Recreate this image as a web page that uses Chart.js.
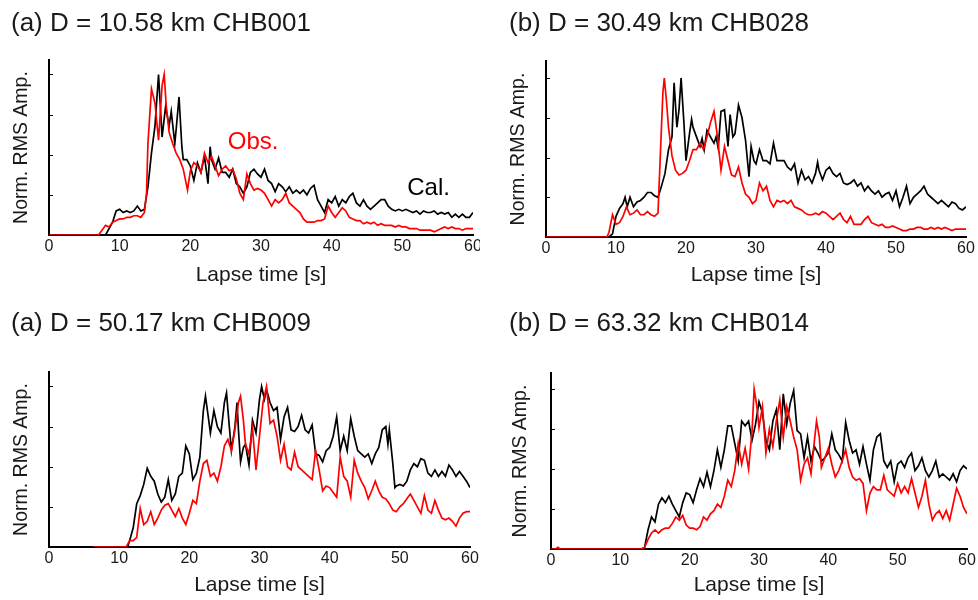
<!DOCTYPE html>
<html><head><meta charset="utf-8">
<script src="https://cdn.jsdelivr.net/npm/chart.js@4.4.0/dist/chart.umd.min.js"></script>
<style>
html,body{margin:0;padding:0;background:#fff;}
body{width:978px;height:600px;position:relative;overflow:hidden;font-family:"Liberation Sans",Arial,sans-serif;}
.panel{position:absolute;overflow:hidden;}
.title{position:absolute;font-size:26px;line-height:26px;color:#1a1a1a;white-space:nowrap;}
canvas{display:block;}
</style></head><body>
<div class="panel" id="p1" style="left:0;top:0;width:480px;height:300px"><canvas id="c1" width="498" height="300"></canvas></div>
<div class="panel" id="p2" style="left:480px;top:0;width:498px;height:300px"><canvas id="c2" width="498" height="300"></canvas></div>
<div class="panel" id="p3" style="left:0;top:300px;width:480px;height:300px"><canvas id="c3" width="498" height="300"></canvas></div>
<div class="panel" id="p4" style="left:480px;top:300px;width:498px;height:300px"><canvas id="c4" width="498" height="300"></canvas></div>
<div class="title" id="t1" style="left:11px;top:9px"></div>
<div class="title" id="t2" style="left:509px;top:9px"></div>
<div class="title" id="t3" style="left:11px;top:309px"></div>
<div class="title" id="t4" style="left:509px;top:309px"></div>
<script>
// ---------- data ----------
const panelTitles = ["(a) D = 10.58 km CHB001", "(b) D = 30.49 km CHB028", "(a) D = 50.17 km CHB009", "(b) D = 63.32 km CHB014"];
const xTickValues = [0, 10, 20, 30, 40, 50, 60];
const yTickValues = [25, 50, 75, 100];
const seriesNames = ["Cal.", "Obs."];

// [lapse time s, normalized RMS amplitude %]
const cal1 = [[0,0],[8,0],[8.5,4],[9,8],[9.5,15],[10,16],[10.5,14],[11,15],[11.5,14],[12,15],[12.5,18],[13,15],[13.5,16],[14,30],[14.5,51],[15,68],[15.5,100],[16,61],[16.5,80],[17,68],[17.3,77],[17.8,57],[18,66],[18.4,86],[18.8,55],[19,47],[19.5,47],[20,43],[20.5,34],[21,45],[21.5,39],[22,49],[22.5,32],[22.8,55],[23,47],[23.5,41],[24,48],[24.5,39],[25,39],[25.5,36],[26,41],[26.5,32],[27,30],[27.5,26],[28,30],[28.5,39],[29,41],[29.5,38],[30,36],[30.5,41],[31,34],[31.5,32],[32,27],[32.5,32],[33,30],[33.5,27],[34,30],[34.5,26],[35,28],[35.5,26],[36,28],[36.5,25],[37,29],[37.5,31],[38,22],[38.5,18],[39,14],[39.5,22],[40,20],[40.5,24],[41,18],[41.5,22],[42,20],[42.5,24],[43,26],[43.5,20],[44,18],[44.5,22],[45,18],[45.5,16],[46,18],[46.5,20],[47,22],[47.5,22],[48,18],[48.5,16],[49,15],[49.5,16],[50,15],[50.5,16],[51,15],[51.5,14],[52,15],[52.5,13],[53,15],[53.5,14],[54,14],[54.5,15],[55,13],[55.5,14],[56,13],[56.5,14],[57,11],[57.5,13],[58,11],[58.5,13],[59,11],[59.5,11],[60,14]];
const obs1 = [[0,0],[7,0],[7.5,3],[8,6],[8.5,5],[9,8],[9.5,9],[10,10],[10.5,10],[11,11],[11.5,11],[12,12],[12.5,12],[13,11],[13.5,14],[13.8,26],[14,57],[14.5,91],[15,82],[15.5,59],[16,93],[16.3,100],[16.6,80],[17,64],[17.5,57],[18,51],[18.5,47],[19,41],[19.6,28],[20,40],[20.5,45],[21,43],[21.5,39],[22,51],[22.5,45],[23,49],[23.5,43],[24,37],[24.5,41],[25,43],[25.5,40],[26,41],[26.5,35],[27,26],[27.5,22],[28,38],[28.5,32],[29,28],[29.5,29],[30,28],[30.5,26],[31,22],[31.5,18],[32,22],[32.5,20],[33,22],[33.5,26],[34,20],[34.5,18],[35,16],[35.5,14],[36,10],[36.5,8],[37,8],[37.5,8],[38,9],[38.5,9],[39,10],[39.5,18],[40,14],[40.5,11],[41,14],[41.5,17],[42,15],[42.5,11],[43,10],[43.5,9],[44,9],[44.5,7],[45,8],[45.5,7],[46,8],[46.5,6],[47,7],[47.5,6],[48,6],[48.5,6],[49,5],[49.5,6],[50,5],[50.5,5],[51,4],[51.5,4],[52,4],[52.5,3],[53,3],[53.5,3],[54,3],[54.5,2],[55,3],[55.5,4],[56,5],[56.5,4],[57,5],[57.5,4],[58,4],[58.5,3],[59,4],[59.5,4],[60,4]];
const cal2 = [[0,0],[9,0],[9.5,2],[10,13],[10.5,18],[11,21],[11.3,25],[11.6,19],[12,25],[12.5,19],[13,22],[13.5,23],[14,25],[14.5,28],[15,28],[15.5,26],[16,25],[16.5,32],[17,40],[17.5,55],[18,63],[18.3,97],[18.7,69],[19,80],[19.3,100],[19.7,72],[20,48],[20.5,65],[20.8,74],[21,69],[21.5,63],[22,57],[22.3,62],[22.6,55],[23,67],[23.5,63],[24,59],[24.3,63],[24.6,56],[25,79],[25.5,80],[26,57],[26.3,77],[26.7,63],[27,65],[27.5,83],[28,75],[28.5,61],[29,38],[29.3,57],[29.7,48],[30,46],[30.5,55],[31,48],[31.5,48],[32,46],[32.5,59],[33,48],[33.5,48],[34,48],[34.5,44],[35,42],[35.5,46],[36,34],[36.5,42],[37,36],[37.5,38],[38,34],[38.5,40],[38.8,47],[39,42],[39.5,36],[40,42],[40.5,44],[41,40],[41.5,38],[42,40],[42.5,34],[43,33],[43.5,34],[44,36],[44.5,32],[45,34],[45.5,29],[46,32],[46.5,29],[47,27],[47.5,29],[48,25],[48.5,27],[49,28],[49.5,23],[50,29],[50.5,19],[51,25],[51.5,32],[52,21],[52.5,25],[53,27],[53.5,29],[54,32],[54.5,27],[55,25],[55.5,23],[56,21],[56.5,23],[57,21],[57.5,19],[58,22],[58.5,21],[59,18],[59.5,17],[60,19]];
const obs2 = [[0,0],[8.7,0],[9,3],[9.5,14],[10,8],[10.5,9],[11,13],[11.5,19],[12,14],[12.5,15],[13,17],[13.5,14],[14,14],[14.5,16],[15,14],[15.5,13],[16,15],[16.3,48],[16.7,91],[16.9,100],[17.2,86],[17.5,69],[18,51],[18.5,42],[19,39],[19.5,40],[20,42],[20.5,48],[21,55],[21.5,55],[22,59],[22.5,55],[23,63],[23.5,72],[24,79],[24.5,63],[25,42],[25.5,57],[26,48],[26.5,39],[27,38],[27.5,44],[28,34],[28.5,27],[29,25],[29.5,21],[30,23],[30.5,34],[31,29],[31.5,32],[32,23],[32.5,19],[33,23],[33.5,22],[34,23],[34.5,21],[35,23],[35.5,19],[36,18],[36.5,17],[37,15],[37.5,14],[38,14],[38.5,15],[39,14],[39.5,16],[40,15],[40.5,13],[41,11],[41.5,13],[42,15],[42.5,11],[43,9],[43.5,13],[44,8],[44.5,8],[45,8],[45.5,11],[46,13],[46.5,9],[47,8],[47.5,7],[48,8],[48.5,6],[49,6],[49.5,7],[50,6],[50.5,5],[51,4],[51.5,4],[52,5],[52.5,5],[53,6],[53.5,6],[54,5],[54.5,5],[55,6],[55.5,5],[56,6],[56.5,5],[57,6],[57.5,5],[58,4],[58.5,5],[59,5],[59.5,5],[60,5]];
const cal3 = [[0,0],[11.2,0],[11.5,4],[12,12],[12.5,27],[13,32],[13.5,39],[14,49],[14.5,44],[15,41],[15.5,33],[16,28],[16.5,31],[17,42],[17.5,29],[18,33],[18.5,44],[19,46],[19.5,63],[20,58],[20.5,42],[21,46],[21.5,56],[22,85],[22.3,94],[22.7,81],[23,71],[23.5,85],[24,75],[24.5,71],[25,90],[25.3,96],[25.7,75],[26,60],[26.5,75],[26.8,90],[27,73],[27.3,53],[27.7,62],[28,64],[28.5,51],[29,79],[29.5,71],[30,92],[30.3,100],[30.7,92],[31,98],[31.5,90],[32,85],[32.5,87],[33,67],[33.5,81],[34,87],[34.5,73],[35,72],[35.5,75],[36,82],[36.5,73],[37,71],[37.5,76],[38,58],[38.5,57],[39,53],[39.5,60],[40,62],[40.5,69],[41,81],[41.5,60],[42,69],[42.5,60],[43,80],[43.5,69],[44,60],[44.5,58],[45,56],[45.5,58],[46,52],[46.5,58],[47,62],[47.5,73],[48,75],[48.3,64],[48.5,73],[49,52],[49.3,37],[49.5,38],[50,39],[50.5,38],[51,41],[51.5,48],[52,52],[52.5,50],[53,55],[53.5,54],[54,46],[54.5,44],[55,48],[55.5,44],[56,47],[56.5,44],[57,51],[57.5,48],[58,44],[58.5,47],[59,44],[59.5,41],[60,37]];
const obs3 = [[6.3,0],[11,0],[11.5,4],[12,4],[12.5,6],[13,24],[13.5,14],[14,16],[14.5,22],[15,14],[15.5,18],[16,23],[16.5,26],[17,27],[17.5,23],[18,19],[18.5,24],[19,18],[19.5,14],[20,21],[20.5,29],[21,27],[21.5,41],[22,52],[22.5,54],[23,44],[23.5,46],[24,41],[24.5,50],[25,63],[25.5,67],[26,60],[26.5,73],[27,90],[27.3,94],[27.7,79],[28,64],[28.5,58],[29,74],[29.5,48],[30,69],[30.5,90],[31,100],[31.5,77],[32,79],[32.5,69],[33,54],[33.5,64],[34,50],[34.5,48],[35,59],[35.5,50],[36,48],[36.5,46],[37,44],[37.5,42],[38,60],[38.5,48],[39,35],[39.5,38],[40,37],[40.5,34],[41,31],[41.5,56],[42,44],[42.5,41],[43,31],[43.5,54],[44,46],[44.5,41],[45,37],[45.5,30],[46,35],[46.5,41],[47,35],[47.5,31],[48,30],[48.5,27],[49,23],[49.5,22],[50,25],[50.5,27],[51,30],[51.5,33],[52,29],[52.5,25],[53,21],[53.5,32],[54,23],[54.5,21],[55,29],[55.5,23],[56,18],[56.5,17],[57,18],[57.5,16],[58,13],[58.5,18],[59,21],[59.5,22],[60,22]];
const cal4 = [[0,0],[13,0],[13.5,1],[14,12],[14.5,20],[15,17],[15.5,28],[16,32],[16.5,29],[17,33],[17.5,28],[18,24],[18.5,20],[19,29],[19.5,35],[20,34],[20.5,29],[21,37],[21.5,44],[22,39],[22.5,48],[23,39],[23.5,49],[24,62],[24.5,51],[25,62],[25.5,77],[26,77],[26.5,66],[27,55],[27.5,80],[28,77],[28.5,80],[29,68],[29.5,78],[30,92],[30.5,85],[31,68],[31.5,62],[32,80],[32.5,87],[33,62],[33.5,97],[34,78],[34.5,91],[35,99],[35.5,74],[36,72],[36.5,57],[37,70],[37.5,55],[38,64],[38.5,60],[39,55],[39.5,57],[40,60],[40.5,72],[41,62],[41.5,59],[42,55],[42.5,79],[43,68],[43.5,60],[44,62],[44.5,53],[45,64],[45.5,53],[46,43],[46.5,62],[47,70],[47.5,72],[48,55],[48.5,51],[49,55],[49.5,42],[50,53],[50.5,55],[51,51],[51.5,57],[52,60],[52.5,49],[53,52],[53.5,57],[54,49],[54.5,45],[55,49],[55.5,55],[56,45],[56.5,47],[57,45],[57.5,43],[58,47],[58.5,42],[59,49],[59.5,52],[60,50]];
const obs4 = [[0,0],[0.7,0],[1,1],[1.3,0],[13,0],[13.5,1],[14,6],[14.5,10],[15,12],[15.5,10],[16,12],[16.5,13],[17,13],[17.5,16],[18,20],[18.5,18],[19,21],[19.5,15],[20,13],[20.5,13],[21,12],[21.5,14],[22,20],[22.5,18],[23,22],[23.5,24],[24,28],[24.5,26],[25,33],[25.5,43],[26,39],[26.5,49],[27,66],[27.5,53],[28,63],[28.5,50],[29,74],[29.3,100],[29.7,89],[30,76],[30.5,89],[31,60],[31.5,75],[32,64],[32.5,80],[33,93],[33.5,70],[34,89],[34.5,80],[35,70],[35.5,62],[36,43],[36.5,53],[37,57],[37.5,47],[38,68],[38.3,80],[38.7,70],[39,51],[39.5,57],[40,63],[40.5,53],[41,45],[41.5,49],[42,55],[42.5,62],[43,51],[43.5,45],[44,43],[44.5,44],[45,41],[45.5,24],[46,35],[46.5,39],[47,37],[47.5,37],[48,46],[48.5,37],[49,35],[49.5,33],[50,41],[50.5,35],[51,39],[51.5,35],[52,44],[52.5,35],[53,26],[53.5,33],[54,43],[54.5,28],[55,18],[55.5,22],[56,24],[56.5,19],[57,24],[57.5,18],[58,28],[58.5,38],[59,33],[59.5,26],[60,22]];

// ---------- layout / style ----------
const FONT = "'Liberation Sans', Arial, sans-serif";
const TEXT = '#1a1a1a';
const layouts = [
  {id:'c1', cal:cal1, obs:obs1, padTop:60, padRight:25, yWidth:49, xHeight:65, yMax:109,   yTitlePad:10, xTitlePad:12, notes:true},
  {id:'c2', cal:cal2, obs:obs2, padTop:61, padRight:12, yWidth:66, xHeight:63, yMax:110.7, yTitlePad:27, xTitlePad:12, notes:false},
  {id:'c3', cal:cal3, obs:obs3, padTop:72, padRight:28, yWidth:49, xHeight:53, yMax:109,   yTitlePad:10, xTitlePad:2, notes:false},
  {id:'c4', cal:cal4, obs:obs4, padTop:73, padRight:11, yWidth:71, xHeight:51, yMax:110,   yTitlePad:29, xTitlePad:2, notes:false}
];
const noteLabels = [
  {text:'Obs.', t:25.3, v:58, color:'#f00'},
  {text:'Cal.', t:50.7, v:29, color:'#000'}
];

const inwardTicks = {
  id:'inwardTicks',
  afterDatasetsDraw(chart){
    const y = chart.scales.y, ctx = chart.ctx, x0 = chart.chartArea.left;
    ctx.save(); ctx.strokeStyle = '#000'; ctx.lineWidth = 1;
    yTickValues.forEach(v => {
      const p = Math.round(y.getPixelForValue(v)) + 0.5;
      ctx.beginPath(); ctx.moveTo(x0, p); ctx.lineTo(x0 + 4, p); ctx.stroke();
    });
    ctx.restore();
  }
};
const notes = {
  id:'notes',
  afterDatasetsDraw(chart, args, opts){
    if (!opts.show) return;
    const ctx = chart.ctx, xs = chart.scales.x, ys = chart.scales.y;
    ctx.save(); ctx.font = '24px ' + FONT; ctx.textBaseline = 'middle'; ctx.textAlign = 'left';
    noteLabels.forEach(n => { ctx.fillStyle = n.color; ctx.fillText(n.text, xs.getPixelForValue(n.t), ys.getPixelForValue(n.v)); });
    ctx.restore();
  }
};

const toXY = arr => arr.map(p => ({x:p[0], y:p[1]}));

layouts.forEach((L, i) => {
  document.getElementById('t' + (i + 1)).textContent = panelTitles[i];
  new Chart(document.getElementById(L.id), {
    type:'line',
    data:{datasets:[
      {label:seriesNames[1], data:toXY(L.obs), borderColor:'#f00', borderWidth:1.7, pointRadius:0, tension:0, fill:false},
      {label:seriesNames[0], data:toXY(L.cal), borderColor:'#000', borderWidth:1.7, pointRadius:0, tension:0, fill:false}
    ]},
    options:{
      responsive:false, animation:false, devicePixelRatio:1,
      layout:{padding:{top:L.padTop, right:L.padRight, left:0, bottom:0}},
      plugins:{legend:{display:false}, tooltip:{enabled:false}, title:{display:false}, notes:{show:L.notes}},
      scales:{
        x:{type:'linear', min:0, max:60,
          afterBuildTicks: s => { s.ticks = xTickValues.map(v => ({value:v})); },
          afterFit: s => { s.height = L.xHeight; },
          ticks:{color:TEXT, font:{family:FONT, size:16}, padding:2, maxRotation:0, autoSkip:false},
          grid:{display:true, drawOnChartArea:false, drawTicks:false},
          border:{display:true, color:'#000', width:2},
          title:{display:true, text:'Lapse time [s]', color:TEXT, font:{family:FONT, size:21}, padding:{top:0, bottom:L.xTitlePad}}
        },
        y:{type:'linear', min:0, max:L.yMax,
          afterFit: s => { s.width = L.yWidth; },
          ticks:{display:false},
          grid:{display:true, drawOnChartArea:false, drawTicks:false},
          border:{display:true, color:'#000', width:2},
          title:{display:true, text:'Norm. RMS Amp.', color:TEXT, font:{family:FONT, size:19.5}, padding:{top:L.yTitlePad, bottom:0}}
        }
      }
    },
    plugins:[inwardTicks, notes]
  });
});
</script>
</body></html>
